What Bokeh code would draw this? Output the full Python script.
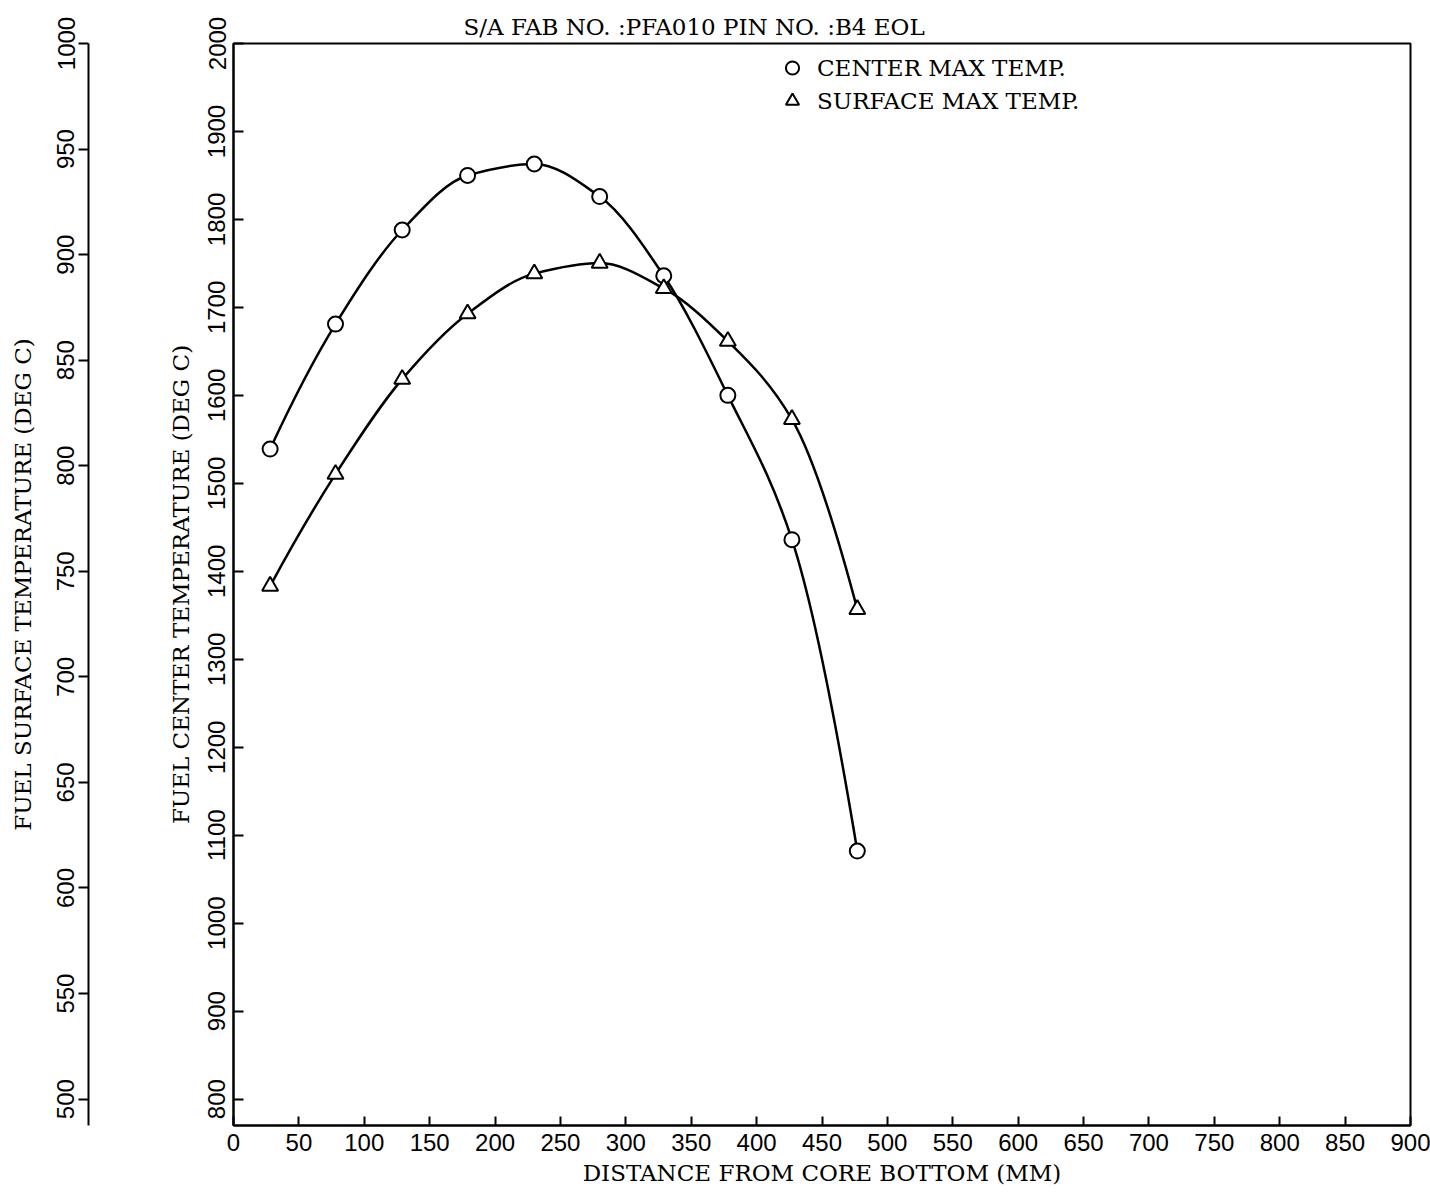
from bokeh.plotting import figure
from bokeh.layouts import row
from bokeh.models import (Range1d, LinearAxis, FixedTicker, ColumnDataSource,
                          Legend, LegendItem)
from bokeh.embed import file_html
from bokeh.resources import INLINE

# ---- data ----
DIST_MM = [28, 78, 129, 179, 230, 280, 329, 378, 427, 477]
CENTER_MAX = [1539, 1681, 1788, 1850, 1863, 1826, 1736, 1600, 1436, 1082]
SURFACE_MAX = [743, 796, 841, 872, 891, 896, 884, 859, 822, 732]

X_TICKS = list(range(0, 901, 50))
CENTER_TICKS = list(range(800, 2001, 100))
SURF_TICKS = list(range(500, 1001, 50))

TITLE = "S/A FAB NO. :PFA010 PIN NO. :B4 EOL"
X_LABEL = "DISTANCE FROM CORE BOTTOM (MM)"
Y_LABEL = "FUEL CENTER TEMPERATURE (DEG C)"
Y2_LABEL = "FUEL SURFACE TEMPERATURE (DEG C)"
LEG_CENTER = "CENTER MAX TEMP."
LEG_SURF = "SURFACE MAX TEMP."

SERIF = "DejaVu Serif"
NUM = "'Liberation Sans Narrow', 'Liberation Sans', sans-serif"

CENTER_RANGE = (770, 2000)
SURF_RANGE = (487.5, 1000)

H = 1200
TOP = 43
BOTTOM = 75
W_FAR = 140


def style_axis(ax):
    ax.axis_line_color = "black"
    ax.axis_line_width = 2
    ax.major_tick_line_color = "black"
    ax.major_tick_line_width = 2
    ax.minor_tick_line_color = None
    ax.major_label_text_font = NUM
    ax.major_label_text_font_size = "24px"
    ax.major_label_text_color = "black"
    ax.axis_label_text_font = SERIF
    ax.axis_label_text_font_size = "23px"
    ax.axis_label_text_font_style = "normal"
    ax.axis_label_text_color = "black"


# ---------- far-left figure: surface temperature axis ----------
pf = figure(width=W_FAR, height=H, output_backend="svg", toolbar_location=None,
            x_range=Range1d(0, 1), y_range=Range1d(*SURF_RANGE),
            x_axis_type=None, y_axis_type=None,
            min_border_left=88, min_border_right=0, min_border_top=TOP,
            min_border_bottom=BOTTOM)
pf.outline_line_color = None
pf.background_fill_color = "white"
pf.border_fill_color = "white"
yfar = LinearAxis(ticker=FixedTicker(ticks=SURF_TICKS), axis_label=Y2_LABEL)
style_axis(yfar)
yfar.major_tick_in = 0
yfar.major_tick_out = 10
yfar.major_label_orientation = "vertical"
yfar.major_label_standoff = 4
yfar.axis_label_standoff = 19
pf.add_layout(yfar, "left")

# ---------- main figure ----------
p = figure(width=1430 - W_FAR, height=H, output_backend="svg", toolbar_location=None,
           x_range=Range1d(0, 900), y_range=Range1d(*CENTER_RANGE),
           x_axis_type=None, y_axis_type=None,
           min_border_left=233 - W_FAR, min_border_right=20, min_border_top=TOP,
           min_border_bottom=BOTTOM)
p.extra_y_ranges = {"surf": Range1d(*SURF_RANGE)}
p.outline_line_color = "black"
p.outline_line_width = 2
p.background_fill_color = "white"
p.border_fill_color = "white"

p.title.text = TITLE
p.title.align = "left"
p.title.offset = 230
p.title.text_font = SERIF
p.title.text_font_size = "23px"
p.title.text_font_style = "normal"
p.title.text_color = "black"
p.title.standoff = 8

xax = LinearAxis(ticker=FixedTicker(ticks=X_TICKS), axis_label=X_LABEL)
style_axis(xax)
xax.major_tick_in = 9
xax.major_tick_out = 0
xax.major_label_standoff = 8
xax.axis_label_standoff = 6
p.add_layout(xax, "below")

yin = LinearAxis(ticker=FixedTicker(ticks=CENTER_TICKS), axis_label=Y_LABEL)
style_axis(yin)
yin.major_tick_in = 10
yin.major_tick_out = 0
yin.major_label_orientation = "vertical"
yin.major_label_standoff = 8
yin.axis_label_standoff = 12
p.add_layout(yin, "left")


def smooth_source(xs, ys):
    """Monotone cubic (PCHIP) curve through the data points, as Bezier pieces."""
    n = len(xs)
    h = [xs[i + 1] - xs[i] for i in range(n - 1)]
    dl = [(ys[i + 1] - ys[i]) / h[i] for i in range(n - 1)]
    m = [0.0] * n
    for k in range(1, n - 1):
        if dl[k - 1] * dl[k] > 0:
            w1 = 2 * h[k] + h[k - 1]
            w2 = h[k] + 2 * h[k - 1]
            m[k] = (w1 + w2) / (w1 / dl[k - 1] + w2 / dl[k])

    def end(h0, h1, d0, d1):
        v = ((2 * h0 + h1) * d0 - h0 * d1) / (h0 + h1)
        if v * d0 <= 0:
            return 0.0
        if d0 * d1 <= 0 and abs(v) > abs(3 * d0):
            return 3 * d0
        return v

    m[0] = end(h[0], h[1], dl[0], dl[1])
    m[-1] = end(h[-1], h[-2], dl[-1], dl[-2])
    d = dict(x0=[], y0=[], x1=[], y1=[], cx0=[], cy0=[], cx1=[], cy1=[])
    for i in range(n - 1):
        t = h[i] / 3.0
        d["x0"].append(xs[i]); d["y0"].append(ys[i])
        d["x1"].append(xs[i + 1]); d["y1"].append(ys[i + 1])
        d["cx0"].append(xs[i] + t); d["cy0"].append(ys[i] + m[i] * t)
        d["cx1"].append(xs[i + 1] - t); d["cy1"].append(ys[i + 1] - m[i + 1] * t)
    return ColumnDataSource(d)


p.bezier(x0="x0", y0="y0", x1="x1", y1="y1", cx0="cx0", cy0="cy0", cx1="cx1",
         cy1="cy1", source=smooth_source(DIST_MM, CENTER_MAX),
         line_color="black", line_width=2.5)
p.bezier(x0="x0", y0="y0", x1="x1", y1="y1", cx0="cx0", cy0="cy0", cx1="cx1",
         cy1="cy1", source=smooth_source(DIST_MM, SURFACE_MAX),
         line_color="black", line_width=2.5, y_range_name="surf")

src_c = ColumnDataSource(dict(x=DIST_MM, y=CENTER_MAX))
src_s = ColumnDataSource(dict(x=DIST_MM, y=SURFACE_MAX))
rc = p.scatter("x", "y", source=src_c, marker="circle", size=15,
               line_color="black", line_width=2, fill_color="white")
rs = p.scatter("x", "y", source=src_s, marker="triangle", size=16,
               line_color="black", line_width=2, fill_color="white",
               y_range_name="surf")

legend = Legend(items=[LegendItem(label=LEG_CENTER, renderers=[rc]),
                       LegendItem(label=LEG_SURF, renderers=[rs])],
                location=(539, 1008))
legend.border_line_color = None
legend.background_fill_alpha = 0
legend.label_text_font = SERIF
legend.label_text_font_size = "23px"
legend.label_text_color = "black"
legend.glyph_width = 40
legend.glyph_height = 33
legend.label_height = 33
legend.spacing = 0
legend.padding = 0
legend.margin = 0
legend.label_standoff = 5
p.add_layout(legend)

layout = row(pf, p, spacing=0)
open("out.html", "w").write(file_html(layout, INLINE))
